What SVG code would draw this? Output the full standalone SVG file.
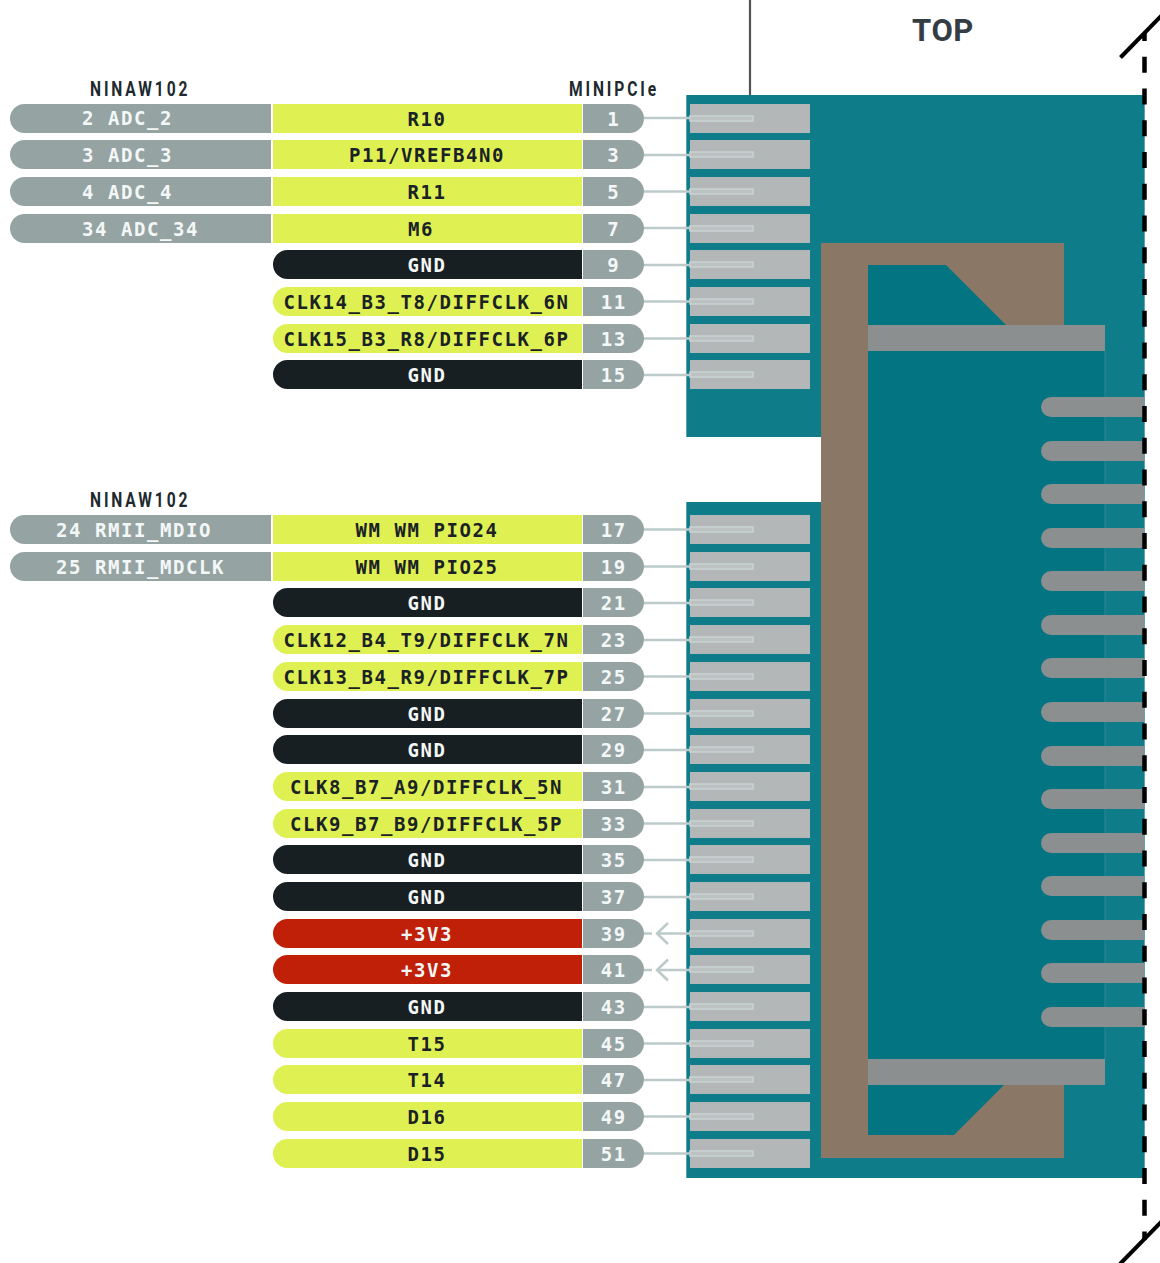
<svg xmlns="http://www.w3.org/2000/svg" xmlns:xlink="http://www.w3.org/1999/xlink" width="1160" height="1263" viewBox="0 0 1160 1263">
<style>
text{font-family:"DejaVu Sans Mono","Liberation Mono",monospace;font-weight:700;font-size:19px;letter-spacing:1.56px}
.hd{font-family:Roboto,"Liberation Sans",sans-serif;font-size:19.500px;fill:#20292e;letter-spacing:3.600px}
.top{font-family:Roboto,"Liberation Sans",sans-serif;font-size:31px;fill:#343d44;letter-spacing:0.600px}
.c{text-anchor:middle}
.w{fill:#f4f7f7}.k{fill:#1a2226}
.gray{fill:#95a4a3}.yel{fill:#dff152}.blk{fill:#171f22}.red{fill:#c01f08}
.pad{fill:#b3b7b7}.tab{fill:#bcc2c2;stroke:#c9d3d3;stroke-width:1.500}
.fin{fill:#8b8f8f}
.cn{stroke:#bccbca;stroke-width:2.500;fill:none}
</style>
<defs>
<path id="L" d="M271 0H24.500a14.500 14.500 0 0 0 0 29H271Z"/>
<path id="M" d="M273 0H582V29H273Z"/>
<path id="R" d="M582 0H287.500a14.500 14.500 0 0 0 0 29H582Z"/>
<path id="N" d="M583 0H629.500a14.500 14.500 0 0 1 0 29H583Z"/>
<rect id="P" x="690" y="0" width="120" height="29"/>
<rect id="T" x="690" y="12" width="63" height="5"/>
<path id="F" d="M1144 0H1051a10 10 0 0 0 0 20H1144Z"/>
</defs>
<g id="board">
<path d="M686 95H1144V1178H686V502H821V437H686Z" fill="#0f7c8a"/>
<path d="M686.500 95V437M686.500 502V1178M1144.500 95V1178" stroke="#5ea5ad" stroke-width="1" fill="none"/>
<rect x="821" y="243" width="243" height="915" fill="#8a7765"/>
<rect x="868" y="351" width="237" height="708" fill="#037482"/>
<rect x="1064" y="325" width="41" height="26" fill="#0f7c8a"/>
<line x1="1105" y1="351" x2="1105" y2="1059" stroke="#2f8590" stroke-width="1"/>
<polygon points="868,265 946,265 1006,325 868,325" fill="#037482"/>
<polygon points="868,1085 1004,1085 954,1135 868,1135" fill="#037482"/>
<rect class="fin" x="868" y="325" width="237" height="26"/>
<rect class="fin" x="868" y="1059" width="237" height="26"/>
<use href="#F" class="fin" y="397"/><use href="#F" class="fin" y="441"/><use href="#F" class="fin" y="484"/><use href="#F" class="fin" y="528"/><use href="#F" class="fin" y="571"/><use href="#F" class="fin" y="615"/><use href="#F" class="fin" y="658"/><use href="#F" class="fin" y="702"/><use href="#F" class="fin" y="746"/><use href="#F" class="fin" y="789"/><use href="#F" class="fin" y="833"/><use href="#F" class="fin" y="876"/><use href="#F" class="fin" y="920"/><use href="#F" class="fin" y="963"/><use href="#F" class="fin" y="1007"/>
</g>
<g id="frame">
<line x1="750" y1="0" x2="750" y2="95" stroke="#4f5457" stroke-width="2.200"/>
<line x1="1144.500" y1="33" x2="1144.500" y2="1240" stroke="#000" stroke-width="4.500" stroke-dasharray="16 15.750" stroke-dashoffset="8"/>
<line x1="1120.500" y1="57.500" x2="1162" y2="15" stroke="#000" stroke-width="4"/>
<line x1="1120" y1="1264" x2="1162" y2="1221" stroke="#000" stroke-width="4"/>
</g>
<text id="title" class="top" x="912" y="41">TOP</text>
<text class="hd" transform="translate(90 96) scale(.8 1)">NINAW102</text>
<text class="hd" transform="translate(569 96) scale(.8 1)">MINIPCIe</text>
<text class="hd" transform="translate(90 507) scale(.8 1)">NINAW102</text>

<g id="pin-1"><use href="#L" class="gray" y="104"/><text class="w" x="82" y="125">2 ADC_2</text><use href="#M" class="yel" y="104"/><text class="k c" x="427" y="125.500">R10</text><use href="#N" class="gray" y="104"/><text class="w c" x="613.800" y="125.500">1</text><use href="#P" class="pad" y="104"/><use href="#T" class="tab" y="104"/></g>
<g id="pin-3"><use href="#L" class="gray" y="140"/><text class="w" x="82" y="162">3 ADC_3</text><use href="#M" class="yel" y="140"/><text class="k c" x="427" y="162">P11/VREFB4N0</text><use href="#N" class="gray" y="140"/><text class="w c" x="613.800" y="162">3</text><use href="#P" class="pad" y="140"/><use href="#T" class="tab" y="140"/></g>
<g id="pin-5"><use href="#L" class="gray" y="177"/><text class="w" x="82" y="199">4 ADC_4</text><use href="#M" class="yel" y="177"/><text class="k c" x="427" y="199">R11</text><use href="#N" class="gray" y="177"/><text class="w c" x="613.800" y="199">5</text><use href="#P" class="pad" y="177"/><use href="#T" class="tab" y="177"/></g>
<g id="pin-7"><use href="#L" class="gray" y="214"/><text class="w" x="82" y="236">34 ADC_34</text><use href="#M" class="yel" y="214"/><text class="k c" x="421" y="236">M6</text><use href="#N" class="gray" y="214"/><text class="w c" x="613.800" y="236">7</text><use href="#P" class="pad" y="214"/><use href="#T" class="tab" y="214"/></g>
<g id="pin-9"><use href="#R" class="blk" y="250"/><text class="w c" x="427" y="272">GND</text><use href="#N" class="gray" y="250"/><text class="w c" x="613.800" y="272">9</text><use href="#P" class="pad" y="250"/><use href="#T" class="tab" y="250"/></g>
<g id="pin-11"><use href="#R" class="yel" y="287"/><text class="k c" x="426.500" y="309">CLK14_B3_T8/DIFFCLK_6N</text><use href="#N" class="gray" y="287"/><text class="w c" x="613.800" y="309">11</text><use href="#P" class="pad" y="287"/><use href="#T" class="tab" y="287"/></g>
<g id="pin-13"><use href="#R" class="yel" y="324"/><text class="k c" x="426.500" y="346">CLK15_B3_R8/DIFFCLK_6P</text><use href="#N" class="gray" y="324"/><text class="w c" x="613.800" y="346">13</text><use href="#P" class="pad" y="324"/><use href="#T" class="tab" y="324"/></g>
<g id="pin-15"><use href="#R" class="blk" y="360"/><text class="w c" x="427" y="382">GND</text><use href="#N" class="gray" y="360"/><text class="w c" x="613.800" y="382">15</text><use href="#P" class="pad" y="360"/><use href="#T" class="tab" y="360"/></g>

<g id="pin-17"><use href="#L" class="gray" y="515"/><text class="w" x="56" y="537">24 RMII_MDIO</text><use href="#M" class="yel" y="515"/><text class="k c" x="427" y="537">WM WM PIO24</text><use href="#N" class="gray" y="515"/><text class="w c" x="613.800" y="537">17</text><use href="#P" class="pad" y="515"/><use href="#T" class="tab" y="515"/></g>
<g id="pin-19"><use href="#L" class="gray" y="552"/><text class="w" x="56" y="574">25 RMII_MDCLK</text><use href="#M" class="yel" y="552"/><text class="k c" x="427" y="574">WM WM PIO25</text><use href="#N" class="gray" y="552"/><text class="w c" x="613.800" y="574">19</text><use href="#P" class="pad" y="552"/><use href="#T" class="tab" y="552"/></g>
<g id="pin-21"><use href="#R" class="blk" y="588"/><text class="w c" x="427" y="610">GND</text><use href="#N" class="gray" y="588"/><text class="w c" x="613.800" y="610">21</text><use href="#P" class="pad" y="588"/><use href="#T" class="tab" y="588"/></g>
<g id="pin-23"><use href="#R" class="yel" y="625"/><text class="k c" x="426.500" y="647">CLK12_B4_T9/DIFFCLK_7N</text><use href="#N" class="gray" y="625"/><text class="w c" x="613.800" y="647">23</text><use href="#P" class="pad" y="625"/><use href="#T" class="tab" y="625"/></g>
<g id="pin-25"><use href="#R" class="yel" y="662"/><text class="k c" x="426.500" y="684">CLK13_B4_R9/DIFFCLK_7P</text><use href="#N" class="gray" y="662"/><text class="w c" x="613.800" y="684">25</text><use href="#P" class="pad" y="662"/><use href="#T" class="tab" y="662"/></g>
<g id="pin-27"><use href="#R" class="blk" y="699"/><text class="w c" x="427" y="721">GND</text><use href="#N" class="gray" y="699"/><text class="w c" x="613.800" y="721">27</text><use href="#P" class="pad" y="699"/><use href="#T" class="tab" y="699"/></g>
<g id="pin-29"><use href="#R" class="blk" y="735"/><text class="w c" x="427" y="757">GND</text><use href="#N" class="gray" y="735"/><text class="w c" x="613.800" y="757">29</text><use href="#P" class="pad" y="735"/><use href="#T" class="tab" y="735"/></g>
<g id="pin-31"><use href="#R" class="yel" y="772"/><text class="k c" x="426.500" y="794">CLK8_B7_A9/DIFFCLK_5N</text><use href="#N" class="gray" y="772"/><text class="w c" x="613.800" y="794">31</text><use href="#P" class="pad" y="772"/><use href="#T" class="tab" y="772"/></g>
<g id="pin-33"><use href="#R" class="yel" y="809"/><text class="k c" x="426.500" y="831">CLK9_B7_B9/DIFFCLK_5P</text><use href="#N" class="gray" y="809"/><text class="w c" x="613.800" y="831">33</text><use href="#P" class="pad" y="809"/><use href="#T" class="tab" y="809"/></g>
<g id="pin-35"><use href="#R" class="blk" y="845"/><text class="w c" x="427" y="867">GND</text><use href="#N" class="gray" y="845"/><text class="w c" x="613.800" y="867">35</text><use href="#P" class="pad" y="845"/><use href="#T" class="tab" y="845"/></g>
<g id="pin-37"><use href="#R" class="blk" y="882"/><text class="w c" x="427" y="904">GND</text><use href="#N" class="gray" y="882"/><text class="w c" x="613.800" y="904">37</text><use href="#P" class="pad" y="882"/><use href="#T" class="tab" y="882"/></g>
<g id="pin-39"><use href="#R" class="red" y="919"/><text class="w c" x="427" y="941">+3V3</text><use href="#N" class="gray" y="919"/><text class="w c" x="613.800" y="941">39</text><use href="#P" class="pad" y="919"/><use href="#T" class="tab" y="919"/></g>
<g id="pin-41"><use href="#R" class="red" y="955"/><text class="w c" x="427" y="977">+3V3</text><use href="#N" class="gray" y="955"/><text class="w c" x="613.800" y="977">41</text><use href="#P" class="pad" y="955"/><use href="#T" class="tab" y="955"/></g>
<g id="pin-43"><use href="#R" class="blk" y="992"/><text class="w c" x="427" y="1014">GND</text><use href="#N" class="gray" y="992"/><text class="w c" x="613.800" y="1014">43</text><use href="#P" class="pad" y="992"/><use href="#T" class="tab" y="992"/></g>
<g id="pin-45"><use href="#R" class="yel" y="1029"/><text class="k c" x="427" y="1051">T15</text><use href="#N" class="gray" y="1029"/><text class="w c" x="613.800" y="1051">45</text><use href="#P" class="pad" y="1029"/><use href="#T" class="tab" y="1029"/></g>
<g id="pin-47"><use href="#R" class="yel" y="1065"/><text class="k c" x="427" y="1087">T14</text><use href="#N" class="gray" y="1065"/><text class="w c" x="613.800" y="1087">47</text><use href="#P" class="pad" y="1065"/><use href="#T" class="tab" y="1065"/></g>
<g id="pin-49"><use href="#R" class="yel" y="1102"/><text class="k c" x="427" y="1124">D16</text><use href="#N" class="gray" y="1102"/><text class="w c" x="613.800" y="1124">49</text><use href="#P" class="pad" y="1102"/><use href="#T" class="tab" y="1102"/></g>
<g id="pin-51"><use href="#R" class="yel" y="1139"/><text class="k c" x="427" y="1161">D15</text><use href="#N" class="gray" y="1139"/><text class="w c" x="613.800" y="1161">51</text><use href="#P" class="pad" y="1139"/><use href="#T" class="tab" y="1139"/></g>

<g id="connectors" class="cn">
<path d="M644 118H690M644 155H690M644 191.500H690M644 228H690M644 265H690M644 301.500H690M644 338.500H690M644 375H690M644 529.500H690M644 566.500H690M644 603H690M644 640H690M644 676.500H690M644 713.500H690M644 750H690M644 787H690M644 823.500H690M644 860H690M644 897H690M644 1007H690M644 1043.500H690M644 1080H690M644 1116.500H690M644 1153.500H690"/>
<path d="M644 933.500H652M657 933.500H690M668 923L657 933.500L668 944M644 970H652M657 970H690M668 959.500L657 970L668 980.500"/>
</g>
</svg>
